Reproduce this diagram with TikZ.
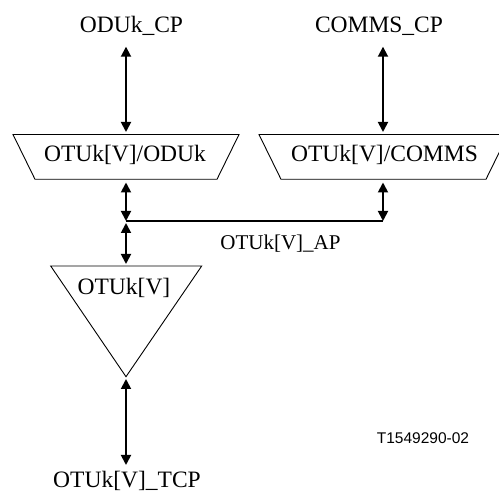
\documentclass[tikz,border=0pt]{standalone}
\usepackage{fontspec}
\setmainfont{Liberation Serif}
\newfontfamily\codefont{Liberation Sans}
\usetikzlibrary{arrows.meta}
\begin{document}
\begin{tikzpicture}[x=1pt,y=-1pt,
  lbl/.style={anchor=base,inner sep=0pt,font=\fontsize{23.5}{28}\selectfont},
  code/.style={anchor=base,inner sep=0pt,font=\codefont\fontsize{15.5}{18}\selectfont},
  shp/.style={draw,line width=0.9pt,line join=miter},
  conn/.style={line width=1.8pt,{Triangle[length=10pt,width=10pt]}-{Triangle[length=10pt,width=10pt]}},
  plain/.style={line width=1.8pt}]
\clip (0,0) rectangle (499,497);
% shapes
\draw[shp] (13,134.5) -- (239,134.5) -- (217,179.3) -- (35,179.3) -- cycle;
\draw[shp] (259,134.5) -- (508,134.5) -- (486,179.3) -- (281,179.3) -- cycle;
\draw[shp] (50.7,266) -- (201.7,266) -- (126,376.7) -- cycle;
% labels
\node[lbl] (oducp) at (131.5,33) {ODUk\_CP};
\node[lbl] (commscp) at (379,33) {COMMS\_CP};
\node[lbl] (adodu) at (125,162) {OTUk[V]/ODUk};
\node[lbl] (adcomms) at (384.5,162) {OTUk[V]/COMMS};
\node[lbl,font=\fontsize{21}{25}\selectfont] (ap) at (280.5,250) {OTUk[V]\_AP};
\node[lbl] (tt) at (124,295) {OTUk[V]};
\node[lbl] (tcp) at (127,488) {OTUk[V]\_TCP};
\node[code] (id) at (423,444) {T1549290-02};
% connector end points
\coordinate (a1t) at (126,46.7);
\coordinate (a1b) at (126,132);
\coordinate (a2t) at (383,46.7);
\coordinate (a2b) at (383,132);
\coordinate (j1t) at (126,182.5);
\coordinate (j1) at (126,221);
\coordinate (j2t) at (383,182.5);
\coordinate (j2) at (383,221);
\coordinate (j3t) at (126,223);
\coordinate (j3b) at (126,264);
\coordinate (a4t) at (126,379);
\coordinate (a4b) at (126,465);
% connectors
\draw[conn] (a1t) -- (a1b);
\draw[conn] (a2t) -- (a2b);
\draw[conn] (j1t) -- (j1);
\draw[conn] (j2t) -- (j2);
\draw[plain] (j1) -- (j2);
\draw[conn] (j3t) -- (j3b);
\draw[conn] (a4t) -- (a4b);
\end{tikzpicture}
\end{document}
